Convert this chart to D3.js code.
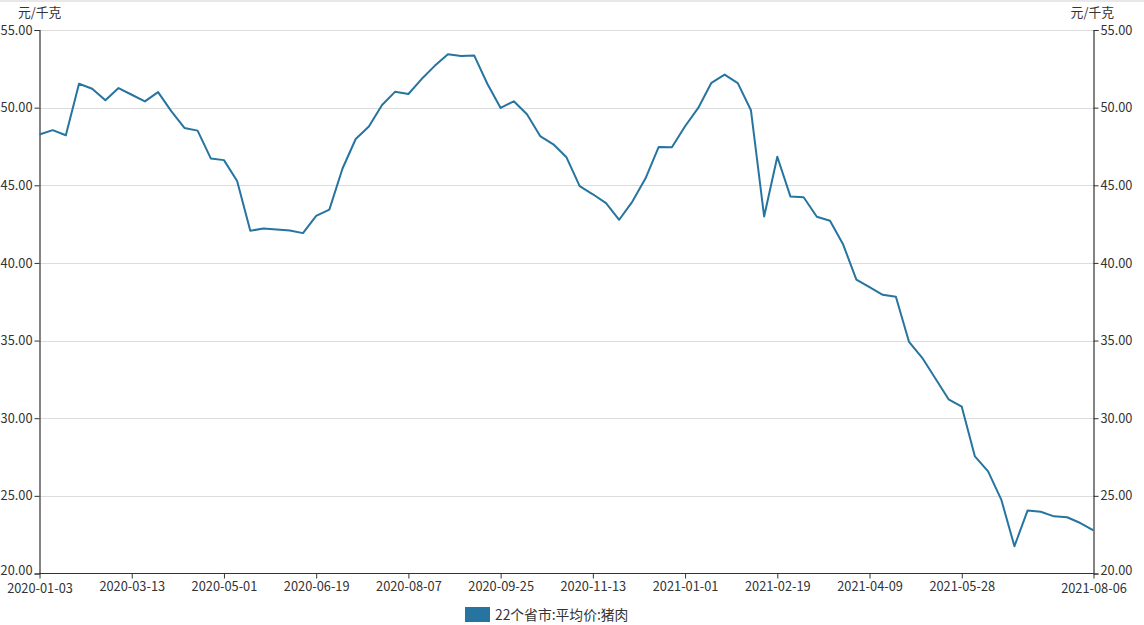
<!DOCTYPE html>
<html>
<head>
<meta charset="utf-8">
<script src="https://cdn.jsdelivr.net/npm/d3@7"></script>
<style>
  html, body { margin: 0; padding: 0; background: #fff; }
  svg text { font-family: "Noto Sans CJK SC", "Noto Sans", sans-serif; }
</style>
</head>
<body>
<svg id="chart" width="1144" height="625"></svg>
<script>
const dates = [
  "2020-01-03","2020-01-10","2020-01-17","2020-02-14","2020-02-21","2020-02-28","2020-03-06","2020-03-13",
  "2020-03-20","2020-03-27","2020-04-03","2020-04-10","2020-04-17","2020-04-24","2020-05-01","2020-05-08",
  "2020-05-15","2020-05-22","2020-05-29","2020-06-05","2020-06-12","2020-06-19","2020-06-26","2020-07-03",
  "2020-07-10","2020-07-17","2020-07-24","2020-07-31","2020-08-07","2020-08-14","2020-08-21","2020-08-28",
  "2020-09-04","2020-09-11","2020-09-18","2020-09-25","2020-10-02","2020-10-09","2020-10-16","2020-10-23",
  "2020-10-30","2020-11-06","2020-11-13","2020-11-20","2020-11-27","2020-12-04","2020-12-11","2020-12-18",
  "2020-12-25","2021-01-01","2021-01-08","2021-01-15","2021-01-22","2021-01-29","2021-02-05","2021-02-12",
  "2021-02-19","2021-02-26","2021-03-05","2021-03-12","2021-03-19","2021-03-26","2021-04-02","2021-04-09",
  "2021-04-16","2021-04-23","2021-04-30","2021-05-07","2021-05-14","2021-05-21","2021-05-28","2021-06-04",
  "2021-06-11","2021-06-18","2021-06-25","2021-07-02","2021-07-09","2021-07-16","2021-07-23","2021-07-30",
  "2021-08-06"
];
const porkPrice = [
  48.27, 48.55, 48.22, 51.54, 51.22, 50.47, 51.26, 50.83, 50.40, 51.00,
  49.78, 48.69, 48.52, 46.73, 46.62, 45.28, 42.07, 42.22, 42.16, 42.09,
  41.92, 43.03, 43.43, 46.08, 47.98, 48.79, 50.17, 51.03, 50.88, 51.84,
  52.69, 53.44, 53.33, 53.35, 51.52, 49.98, 50.41, 49.57, 48.17, 47.64,
  46.80, 44.95, 44.42, 43.85, 42.78, 43.95, 45.45, 47.47, 47.45, 48.80,
  49.98, 51.60, 52.13, 51.58, 49.83, 42.99, 46.84, 44.27, 44.23, 42.97,
  42.72, 41.18, 38.93, 38.44, 37.95, 37.82, 34.91, 33.89, 32.56, 31.22,
  30.74, 27.54, 26.58, 24.76, 21.76, 24.06, 23.98, 23.68, 23.62, 23.25,
  22.78
];
const xTickLabels = ["2020-01-03","2020-03-13","2020-05-01","2020-06-19","2020-08-07","2020-09-25",
  "2020-11-13","2021-01-01","2021-02-19","2021-04-09","2021-05-28","2021-08-06"];
const yTicks = [20, 25, 30, 35, 40, 45, 50, 55];
const unitLabel = "元/千克";
const seriesName = "22个省市:平均价:猪肉";

const svg = d3.select("#chart");
const W = 1144, H = 625;
const m = { left: 39.5, right: 1093.5, top: 30, bottom: 573.5 };
const lineColor = "#2674a0";
const textColor = "#333";
const fs = 12.8;

svg.append("line").attr("x1", 0).attr("x2", W).attr("y1", 1).attr("y2", 1)
  .attr("stroke", "#e8e8e8").attr("stroke-width", 2);

const x = d3.scalePoint().domain(dates).range([m.left, m.right]);
const y = d3.scaleLinear().domain([20, 55]).range([m.bottom, m.top]);

// grid
svg.append("g").selectAll("line").data(yTicks.filter(v => v !== 20)).join("line")
  .attr("x1", m.left).attr("x2", m.right)
  .attr("y1", d => Math.round(y(d)) + 0.5).attr("y2", d => Math.round(y(d)) + 0.5)
  .attr("stroke", "#dcdcdc").attr("stroke-width", 1);

const fmt = d3.format(".2f");

// left axis
const gL = svg.append("g").attr("transform", `translate(${m.left},0)`)
  .call(d3.axisLeft(y).tickValues(yTicks).tickFormat(fmt).tickSizeOuter(0).tickSize(5).tickPadding(2));
// right axis
const gR = svg.append("g").attr("transform", `translate(${m.right},0)`)
  .call(d3.axisRight(y).tickValues(yTicks).tickFormat(fmt).tickSizeOuter(0).tickSize(5).tickPadding(2));
// bottom axis
const gB = svg.append("g").attr("transform", `translate(0,${m.bottom})`)
  .call(d3.axisBottom(x).tickValues(xTickLabels).tickSizeOuter(0).tickSize(5).tickPadding(3));

[gL, gR, gB].forEach(g => {
  g.selectAll("path.domain").attr("stroke", "#333").attr("stroke-width", 1.2);
  g.selectAll(".tick line").attr("stroke", "#333");
  g.selectAll(".tick text").attr("fill", textColor).attr("font-size", fs);
});
gB.select("path.domain").attr("d", `M${m.left},0H${m.right}`);
// keep the lowest y labels clear of the date labels
gL.selectAll(".tick text").filter(d => d === 20).attr("dy", "0.08em");
gR.selectAll(".tick text").filter(d => d === 20).attr("dy", "0.08em");
gB.selectAll(".tick text").filter((d, i, n) => i === 0 || i === n.length - 1).attr("dy", "0.93em");

// units
svg.append("text").attr("x", 18).attr("y", 17).attr("font-size", fs).attr("fill", textColor).text(unitLabel);
svg.append("text").attr("x", 1114).attr("y", 17).attr("font-size", fs).attr("fill", textColor)
  .attr("text-anchor", "end").text(unitLabel);

// line
const line = d3.line().x((d, i) => x(dates[i])).y(d => y(d));
svg.append("path").datum(porkPrice).attr("d", line)
  .attr("fill", "none").attr("stroke", lineColor).attr("stroke-width", 2)
  .attr("stroke-linejoin", "round");

// legend
const lg = svg.append("g").attr("transform", "translate(465,607)");
lg.append("rect").attr("width", 25).attr("height", 15).attr("fill", lineColor);
lg.append("text").attr("x", 30).attr("y", 13).attr("font-size", 13.8).attr("fill", textColor).text(seriesName);
</script>
</body>
</html>
